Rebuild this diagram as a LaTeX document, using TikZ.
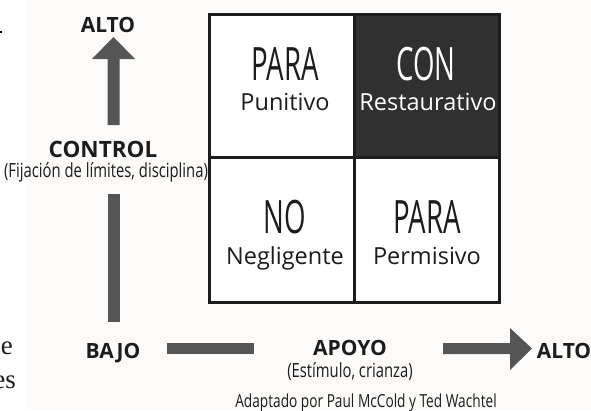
\documentclass[tikz,border=0pt]{standalone}
\usepackage{fontspec}
\setmainfont{Open Sans}
\newfontfamily\serifcut{Liberation Serif}
\usepackage{graphicx}
\definecolor{paper}{HTML}{FCFBF9}
\definecolor{ink}{HTML}{1C1C1C}
\definecolor{darkcell}{HTML}{303030}
\definecolor{bar}{HTML}{555555}
\tikzset{
  axislabel/.style={anchor=base,inner sep=0pt,text=ink,font=\bfseries\fontsize{21}{21}\selectfont},
  condtext/.style={anchor=base,inner sep=0pt,text=ink},
  bigword/.style={anchor=base,inner sep=0pt,text=ink},
  subword/.style={anchor=base,inner sep=0pt,text=ink,font=\fontsize{23.5}{23.5}\selectfont},
  axisbar/.style={fill=bar,draw=none},
  gridline/.style={draw=ink,line width=3.6pt},
}
\newcommand{\cond}[2]{\scalebox{#1}[1]{#2}}
\begin{document}
\begin{tikzpicture}[x=1pt,y=-1pt]
\useasboundingbox (0,0) rectangle (591,410);
\fill[white] (0,0) rectangle (591,410);
\fill[paper] (26,0) rectangle (591,410);
% cut-off fragments at left edge
\fill[black] (0,31) rectangle (2.2,33.3);
\node[anchor=base east,inner sep=0pt,font=\serifcut\fontsize{27}{27}\selectfont,text=ink] (frage) at (13,354) {e};
\node[anchor=base east,inner sep=0pt,font=\serifcut\fontsize{27}{27}\selectfont,text=ink] (frages) at (16,388) {es};
% grid
\fill[white] (209.5,14.5) rectangle (499.5,302.5);
\fill[darkcell] (354.5,14.5) rectangle (499.5,157.5);
\draw[gridline] (209.5,14.5) rectangle (499.5,302.5);
\draw[gridline,line width=3pt] (354.5,14.5) -- (354.5,302.5);
\draw[gridline,line width=3pt] (209.5,157.5) -- (499.5,157.5);
% cell texts
\node[bigword] (para1) at (285,80) {\cond{0.6}{\fontsize{46}{46}\selectfont PARA}};
\node[subword] (puni) at (285,110) {Punitivo};
\node[bigword,text=white] (con) at (426,80) {\cond{0.6}{\fontsize{46}{46}\selectfont CON}};
\node[subword,text=white] (rest) at (428,110) {Restaurativo};
\node[bigword] (no) at (285,233) {\cond{0.6}{\fontsize{46}{46}\selectfont NO}};
\node[subword] (negl) at (285,264) {Negligente};
\node[bigword] (para2) at (427,233) {\cond{0.6}{\fontsize{46}{46}\selectfont PARA}};
\node[subword] (perm) at (427,264) {Permisivo};
% vertical axis
\fill[axisbar] (107.5,125) -- (107.5,59) -- (92,59) -- (113.5,37) -- (135,59) -- (119.5,59) -- (119.5,125) -- cycle;
\fill[axisbar] (107.5,194) rectangle (119.5,322);
\node[axislabel] (altotop) at (108,32) {ALTO};
\node[axislabel,font=\bfseries\fontsize{22.5}{22.5}\selectfont] (control) at (103,157) {CONTROL};
\node[condtext] (fij) at (106,177) {\cond{0.76}{\fontsize{19.5}{19.5}\selectfont (Fijación de límites, disciplina)}};
\node[axislabel] (bajo) at (113,358) {BAJO};
% horizontal axis
\fill[axisbar] (167,343) rectangle (254,354);
\fill[axisbar] (443,343) -- (510,343) -- (510,328) -- (532,348.5) -- (510,370) -- (510,354) -- (443,354) -- cycle;
\node[axislabel] (apoyo) at (350,355) {APOYO};
\node[condtext] (estim) at (350,377) {\cond{0.76}{\fontsize{19.5}{19.5}\selectfont (Estímulo, crianza)}};
\node[axislabel] (altoright) at (564,358) {ALTO};
\node[condtext] (adapt) at (366,407) {\cond{0.76}{\fontsize{18}{18}\selectfont Adaptado por Paul McCold y Ted Wachtel}};
\end{tikzpicture}
\end{document}
